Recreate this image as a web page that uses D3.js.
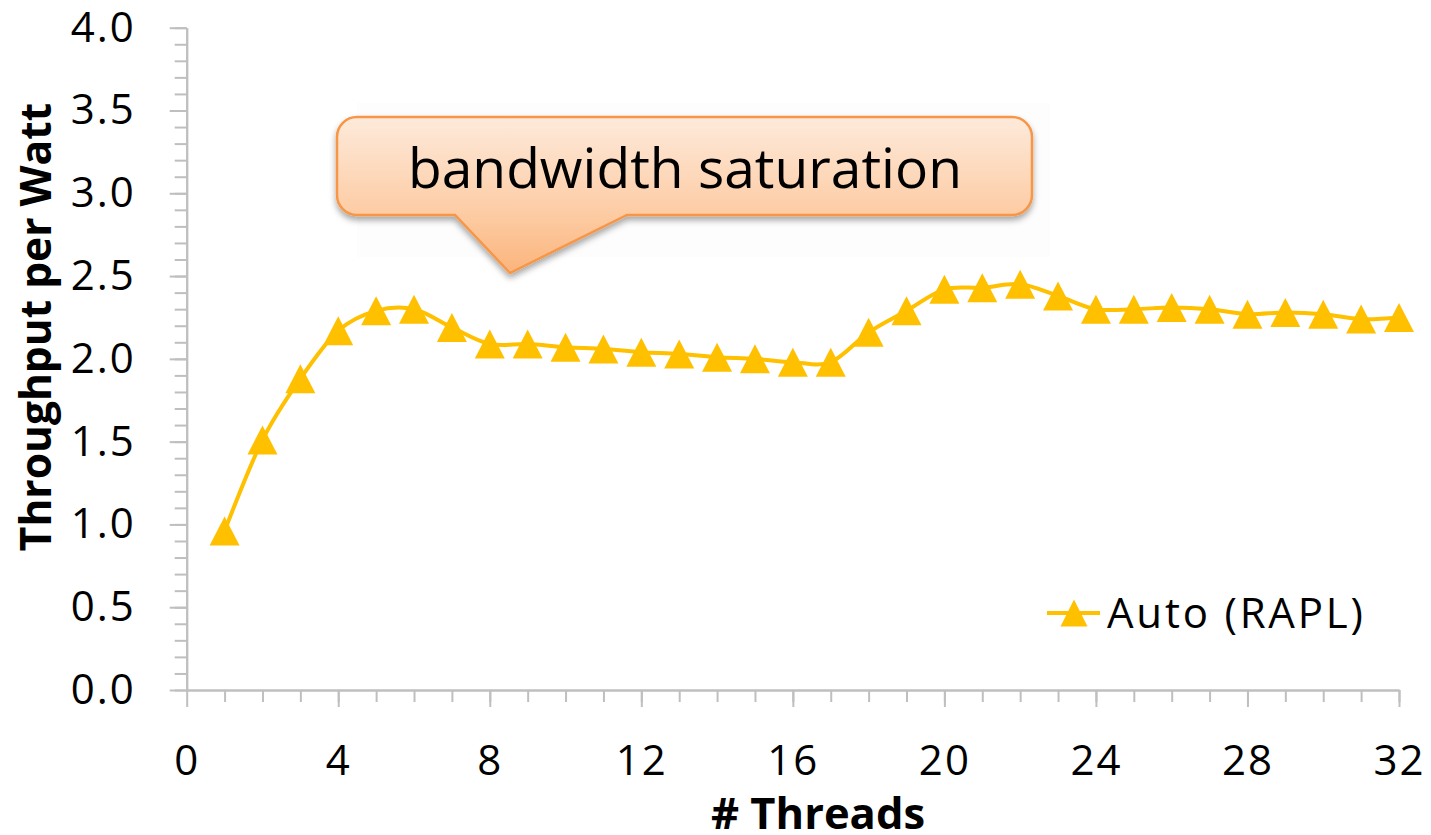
<!DOCTYPE html>
<html>
<head>
<meta charset="utf-8">
<script src="https://cdn.jsdelivr.net/npm/d3@7"></script>
<style>
  body { margin: 0; background: #fff; }
  svg { display: block; font-family: "Open Sans", sans-serif; }
</style>
</head>
<body>
<svg id="chart" width="1431" height="835"></svg>
<script>
// data
var threads = d3.range(1, 33);
var perWatt = [0.96, 1.51, 1.88, 2.17, 2.29, 2.30, 2.19, 2.09, 2.09, 2.07,
               2.06, 2.04, 2.03, 2.01, 2.00, 1.98, 1.98, 2.16, 2.29, 2.42,
               2.43, 2.45, 2.38, 2.30, 2.30, 2.31, 2.30, 2.27, 2.28, 2.27,
               2.24, 2.25];
var xTickLabels = [0, 4, 8, 12, 16, 20, 24, 28, 32];
var yTickLabels = [0, 0.5, 1, 1.5, 2, 2.5, 3, 3.5, 4];
var seriesName = "Auto (RAPL)";
var calloutText = "bandwidth saturation";

var gold = "#FFC000";
var axisGray = "#bfbfbf";

var svg = d3.select("#chart");

var x = d3.scaleLinear().domain([0, 32]).range([186.7, 1399]);
var y = d3.scaleLinear().domain([0, 4]).range([690, 27.7]);

// gradient + shadow for callout
var defs = svg.append("defs");
var grad = defs.append("linearGradient")
    .attr("id", "calloutGrad")
    .attr("gradientUnits", "userSpaceOnUse")
    .attr("x1", 0).attr("y1", 117).attr("x2", 0).attr("y2", 273);
grad.append("stop").attr("offset", "0%").attr("stop-color", "#fdeadb");
grad.append("stop").attr("offset", "60%").attr("stop-color", "#fdcda6");
grad.append("stop").attr("offset", "100%").attr("stop-color", "#fbb47c");
var shadow = defs.append("filter").attr("id", "shadow")
    .attr("x", "-10%").attr("y", "-20%").attr("width", "120%").attr("height", "160%");
shadow.append("feDropShadow")
    .attr("dx", 0).attr("dy", 4).attr("stdDeviation", 3)
    .attr("flood-color", "#000").attr("flood-opacity", 0.35);

// faint picture backdrop behind callout
svg.append("rect")
    .attr("x", 357).attr("y", 103).attr("width", 693).attr("height", 154)
    .attr("fill", "#fdfdfd");

// axes: minor ticks first, then major with labels
function styleAxis(g) {
    g.selectAll("path, line").attr("stroke", axisGray).attr("stroke-width", 2);
    g.selectAll("text").attr("fill", "#000").attr("font-family", "Open Sans")
        .attr("font-size", 42);
}

svg.append("g")
    .attr("transform", "translate(" + x(0) + ",0)")
    .call(d3.axisLeft(y).tickValues(d3.range(0, 41).map(d => d / 10))
        .tickSize(12).tickSizeOuter(0).tickFormat(""))
    .call(styleAxis);

svg.append("g")
    .attr("transform", "translate(" + x(0) + ",0)")
    .call(d3.axisLeft(y).tickValues(yTickLabels).tickSize(17).tickSizeOuter(0)
        .tickPadding(34).tickFormat(d3.format(".1f")))
    .call(styleAxis)
    .call(g => g.selectAll("text").attr("letter-spacing", 2));

svg.append("g")
    .attr("transform", "translate(0," + y(0) + ")")
    .call(d3.axisBottom(x).tickValues(threads).tickSize(12).tickSizeOuter(0).tickFormat(""))
    .call(styleAxis);

svg.append("g")
    .attr("transform", "translate(0," + y(0) + ")")
    .call(d3.axisBottom(x).tickValues(xTickLabels).tickSize(17).tickSizeOuter(0)
        .tickPadding(38).tickFormat(d3.format("d")))
    .call(styleAxis)
    .call(g => g.selectAll("text").attr("letter-spacing", 2));

// axis titles
svg.append("text")
    .attr("transform", "translate(51," + 327 + ") rotate(-90)")
    .attr("text-anchor", "middle")
    .attr("font-size", 42.5).attr("font-weight", "bold")
    .text("Throughput per Watt");

svg.append("text")
    .attr("x", 818).attr("y", 829)
    .attr("text-anchor", "middle")
    .attr("font-size", 43.5).attr("font-weight", "bold")
    .text("# Threads");

// series
var points = threads.map((t, i) => ({ t: t, v: perWatt[i] }));

svg.append("path")
    .datum(points)
    .attr("fill", "none")
    .attr("stroke", gold)
    .attr("stroke-width", 4)
    .attr("d", d3.line().x(d => x(d.t)).y(d => y(d.v)).curve(d3.curveCatmullRom.alpha(0)));

var tri = "M0,-14.5L15,14.5L-15,14.5Z";
svg.append("g").selectAll("path")
    .data(points)
    .enter()
    .append("path")
    .attr("transform", d => "translate(" + x(d.t) + "," + y(d.v) + ")")
    .attr("d", tri)
    .attr("fill", gold);

// legend
var lg = svg.append("g").attr("transform", "translate(1047,613)");
lg.append("line").attr("x1", 0).attr("x2", 53)
    .attr("stroke", gold).attr("stroke-width", 4);
lg.append("path").attr("transform", "translate(27,0)")
    .attr("d", "M0,-13.5L13.5,13.5L-13.5,13.5Z").attr("fill", gold);
lg.append("text").attr("x", 60).attr("y", 15)
    .attr("font-size", 42).attr("letter-spacing", 2.8)
    .text(seriesName);

// callout
var cr = 20, cLeft = 337, cRight = 1032, cTop = 117, cBottom = 215;
var callout = d3.path();
callout.moveTo(cLeft + cr, cTop);
callout.lineTo(cRight - cr, cTop);
callout.arcTo(cRight, cTop, cRight, cTop + cr, cr);
callout.lineTo(cRight, cBottom - cr);
callout.arcTo(cRight, cBottom, cRight - cr, cBottom, cr);
callout.lineTo(627, cBottom);
callout.lineTo(510, 273);
callout.lineTo(455, cBottom);
callout.lineTo(cLeft + cr, cBottom);
callout.arcTo(cLeft, cBottom, cLeft, cBottom - cr, cr);
callout.lineTo(cLeft, cTop + cr);
callout.arcTo(cLeft, cTop, cLeft + cr, cTop, cr);
callout.closePath();

svg.append("path")
    .attr("d", callout.toString())
    .attr("fill", "url(#calloutGrad)")
    .attr("stroke", "#f79646")
    .attr("stroke-width", 2.5)
    .attr("filter", "url(#shadow)");

svg.append("text")
    .attr("x", 685).attr("y", 188)
    .attr("text-anchor", "middle")
    .attr("font-size", 55)
    .attr("textLength", 554)
    .attr("lengthAdjust", "spacingAndGlyphs")
    .text(calloutText);
</script>
</body>
</html>
